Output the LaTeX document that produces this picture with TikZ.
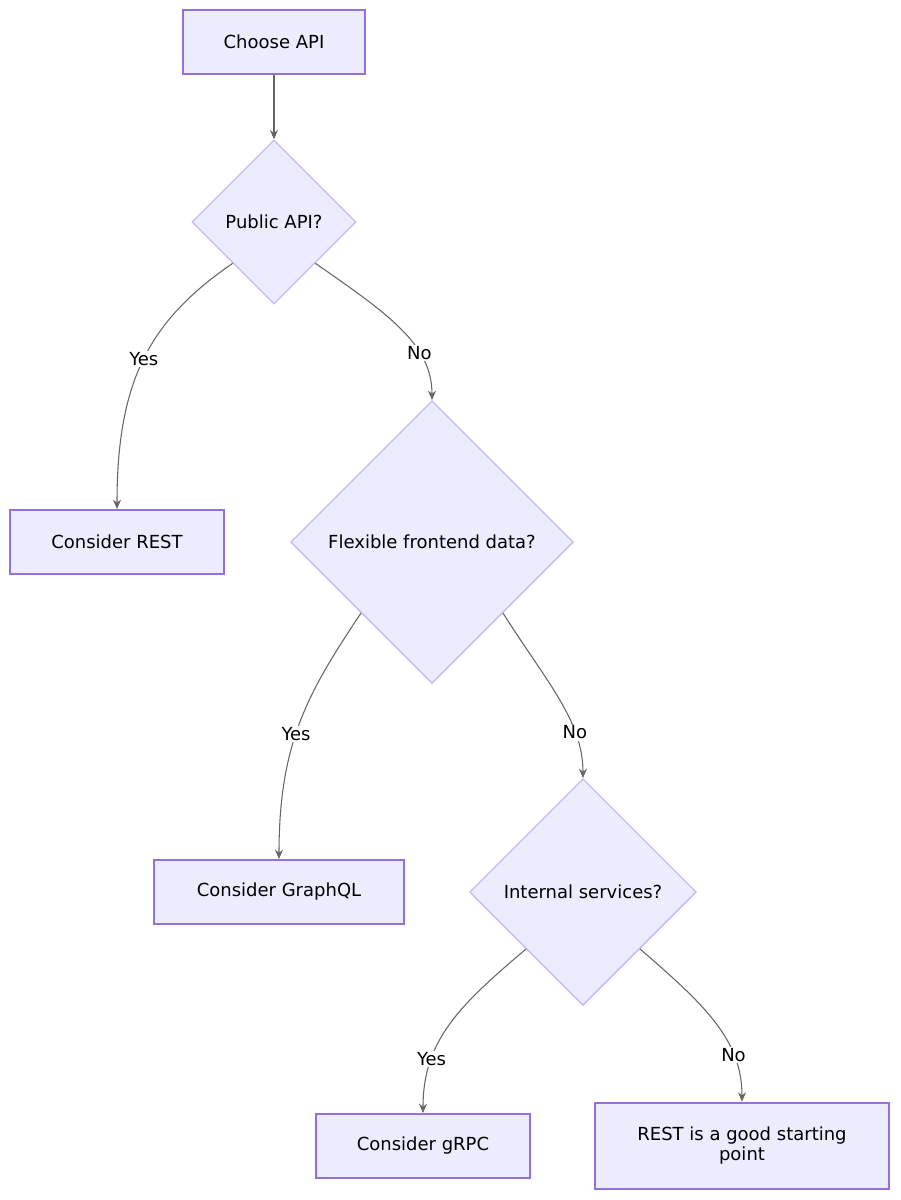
\documentclass[tikz,border=0pt]{standalone}
\usepackage{fontspec}
\setmainfont{DejaVu Sans}
\usetikzlibrary{shapes.geometric,arrows.meta}
\definecolor{nfill}{HTML}{ECECFF}
\definecolor{nborder}{HTML}{9370DB}
\definecolor{dborder}{HTML}{C8B8F2}
\definecolor{edge}{HTML}{666666}
\begin{document}
\begin{tikzpicture}[x=0.75pt,y=-0.75pt,
  box/.style={draw=nborder,fill=nfill,line width=1.5pt,rectangle,inner sep=0,font=\fontsize{13.5}{15}\selectfont,align=center},
  dec/.style={draw=dborder,fill=nfill,line width=1pt,diamond,inner sep=0,font=\fontsize{13.5}{15}\selectfont},
  conn/.style={draw=edge,line width=0.8pt,-{Stealth[length=7pt,width=6pt]}},
  lab/.style={font=\fontsize{13.5}{15}\selectfont,fill=white,inner sep=1pt}]
\useasboundingbox (0,0) rectangle (900,1200);
\node[box,minimum width=136.5pt,minimum height=48pt] (choose) at (274,42) {Choose API};
\node[dec,minimum width=123pt,minimum height=123pt] (pub) at (274,222) {Public API?};
\node[box,minimum width=160pt,minimum height=48pt] (rest) at (117,542) {Consider REST};
\node[dec,minimum width=212pt,minimum height=212pt] (flex) at (432,542) {Flexible frontend data?};
\node[box,minimum width=187pt,minimum height=48pt] (gql) at (279,892) {Consider GraphQL};
\node[dec,minimum width=170pt,minimum height=170pt] (int) at (583,892) {Internal services?};
\node[box,minimum width=160pt,minimum height=48pt] (grpc) at (423,1146) {Consider gRPC};
\node[box,minimum width=220pt,minimum height=65pt] (good) at (742,1146) {REST is a good starting\\point};
\draw[conn] (choose) -- (pub);
\draw[conn] (pub.south west) .. controls (150,320) and (117,380) .. node[lab,pos=0.5] {Yes} (rest.north);
\draw[conn] (pub.south east) .. controls (390,315) and (432,345) .. node[lab,pos=0.68] {No} (flex.north);
\draw[conn] (flex.south west) .. controls (310,690) and (279,740) .. node[lab,pos=0.56] {Yes} (gql.north);
\draw[conn] (flex.south east) .. controls (545,680) and (583,720) .. node[lab,pos=0.72] {No} (int.north);
\draw[conn] (int.south west) .. controls (460,1005) and (423,1040) .. node[lab,pos=0.72] {Yes} (grpc.north);
\draw[conn] (int.south east) .. controls (705,1005) and (742,1040) .. node[lab,pos=0.72] {No} (good.north);
\end{tikzpicture}
\end{document}
